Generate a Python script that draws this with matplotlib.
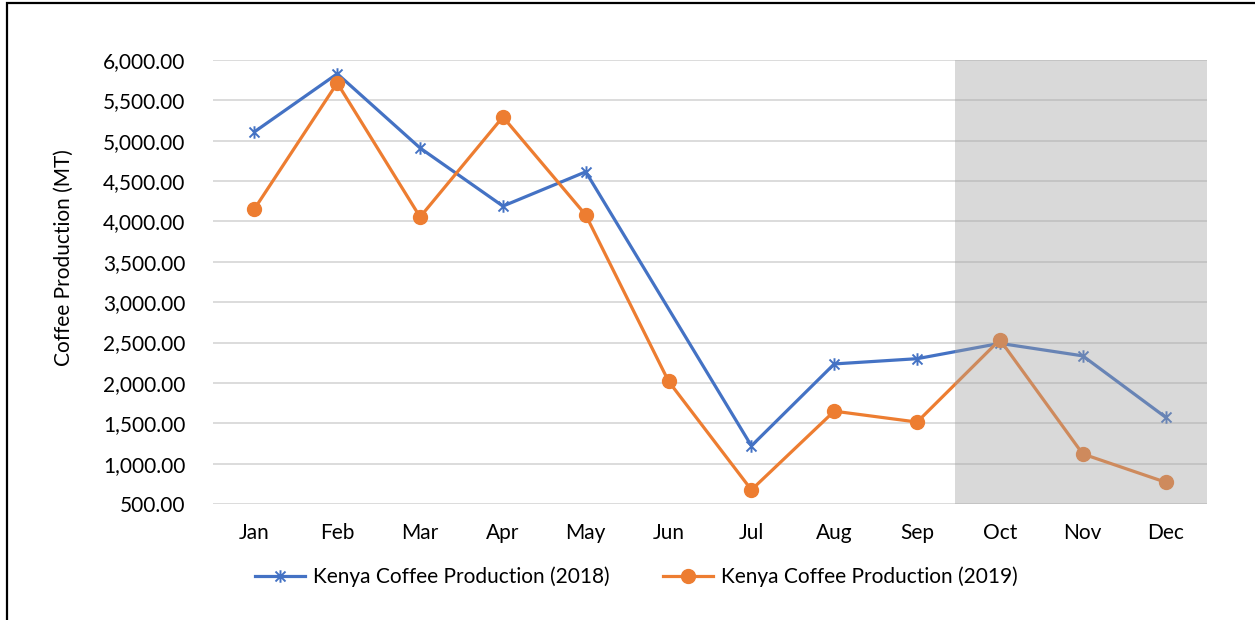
import numpy as np
import matplotlib
matplotlib.use('Agg')
from matplotlib import pyplot as plt
from matplotlib.path import Path
from matplotlib.patches import Rectangle

months = ['Jan', 'Feb', 'Mar', 'Apr', 'May', 'Jun',
          'Jul', 'Aug', 'Sep', 'Oct', 'Nov', 'Dec']
prod_2018 = [5110, 5830, 4910, 4190, 4615, np.nan,
             1220, 2235, 2300, 2490, 2335, 1575]
prod_2019 = [4155, 5715, 4055, 5295, 4080, 2020,
             675, 1650, 1515, 2535, 1120, 770]
shade_from = 'Oct'

plt.rcParams['font.family'] = ['Lato', 'DejaVu Sans']

blue = '#4472C4'
orange = '#ED7D31'

# excel style star marker: X plus vertical bar
star = Path([(-1, -1), (1, 1), (-1, 1), (1, -1), (0, -1.25), (0, 1.25)],
            [Path.MOVETO, Path.LINETO] * 3)

fig = plt.figure(figsize=(12.55, 6.2), dpi=100)
ax = fig.add_axes([213 / 1255, 1 - 504 / 620, 994 / 1255, 444 / 620])

x = np.arange(len(months))
y18 = np.array(prod_2018, dtype=float)
ok = ~np.isnan(y18)
ax.plot(x[ok], y18[ok], color=blue, lw=2.3, marker=star, ms=9,
        mew=1.4, label='Kenya Coffee Production (2018)', zorder=3)
ax.plot(x, prod_2019, color=orange, lw=2.3, marker='o', ms=10,
        label='Kenya Coffee Production (2019)', zorder=3)

# shaded window, drawn over the lines
i0 = months.index(shade_from)
ax.axvspan(i0 - 0.54, len(months) - 0.5, color='#A0A0A0', alpha=0.4,
           lw=0, zorder=4)

ax.set_xlim(-0.5, len(months) - 0.5)
ax.set_ylim(500, 6000)
ax.set_yticks(np.arange(500, 6001, 500))
ax.yaxis.set_major_formatter(matplotlib.ticker.StrMethodFormatter('{x:,.2f}'))
ax.set_xticks(x)
ax.set_xticklabels(months)
ax.tick_params(axis='both', length=0, labelsize=15, colors='#000000')
ax.tick_params(axis='y', pad=20)
ax.tick_params(axis='x', pad=14)
ax.grid(axis='y', color='#D9D9D9', lw=1.3, zorder=0)
ax.set_axisbelow(True)
for s in ax.spines.values():
    s.set_visible(False)

ax.set_ylabel('Coffee Production (MT)', fontsize=15)
ax.yaxis.set_label_coords(-0.14, 0.554)

fig.legend(loc='center', bbox_to_anchor=(0.507, 1 - 577 / 620), ncol=2,
           frameon=False, fontsize=15, handlelength=2.4,
           columnspacing=2.6, handletextpad=0.35)

# outer frame
fig.add_artist(Rectangle((7 / 1255, -0.2), 1.2, 1.2 - 3 / 620, fill=False,
                         lw=1.6, ec='black', transform=fig.transFigure))

plt.savefig('out.png', dpi=100)
